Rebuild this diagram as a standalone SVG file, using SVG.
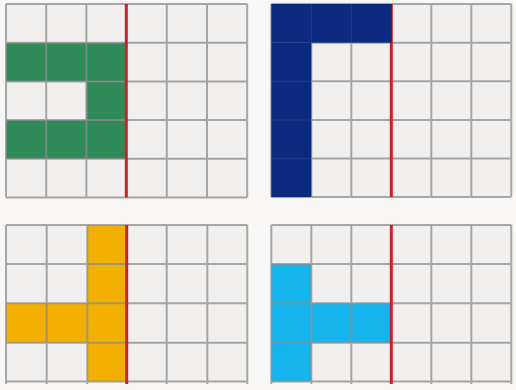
<svg xmlns="http://www.w3.org/2000/svg" width="516" height="390" viewBox="0 0 516 390">
<style>
.bg{fill:#f2f0ef}
.gl{stroke:#8c8c8c;stroke-width:2;stroke-opacity:0.75;fill:none}
.red{stroke:#cf1f2a;stroke-width:3}
.green{fill:#2f8b58}
.navy{fill:#0b2a80}
.yellow{fill:#f3b000}
.cyan{fill:#14b4ec}
</style>
<rect width="516" height="390" fill="#f8f7f6"/>

<g id="grid-top-left">
<rect class="bg" x="6" y="4" width="241.2" height="193.5"/>
<rect class="green" x="6" y="42.7" width="120.6" height="38.7"/>
<rect class="green" x="86.4" y="81.4" width="40.2" height="38.7"/>
<rect class="green" x="6" y="120.1" width="120.6" height="38.7"/>
<path class="gl" d="M6 4V197.5M46.2 4V197.5M86.4 4V197.5M166.8 4V197.5M207 4V197.5M247.2 4V197.5M6 4H247.2M6 42.7H247.2M6 81.4H247.2M6 120.1H247.2M6 158.8H247.2M6 197.5H247.2"/>
<line class="red" x1="126.3" y1="4" x2="126.3" y2="197.5"/>
</g>

<g id="grid-top-right">
<rect class="bg" x="271.3" y="4" width="240" height="193"/>
<path class="gl" d="M271.3 4V197M311.3 4V197M351.3 4V197M431.3 4V197M471.3 4V197M511.3 4V197M271.3 4H511.3M271.3 42.7H511.3M271.3 81.3H511.3M271.3 120H511.3M271.3 158.6H511.3M271.3 197H511.3"/>
<line class="red" x1="391.3" y1="4" x2="391.3" y2="197"/>
<rect class="navy" x="271.3" y="4" width="120.5" height="38.7"/>
<rect class="navy" x="271.3" y="42.7" width="40" height="154.3"/>
<path d="M311.3 4V42.7M351.3 4V42.7M271.3 81.3H311.3M271.3 120H311.3M271.3 158.6H311.3" stroke="#3a4f95" stroke-width="1" stroke-opacity="0.5"/>
</g>

<g id="grid-bottom-left">
<rect class="bg" x="6" y="225" width="241.2" height="157"/>
<rect class="yellow" x="87.3" y="225" width="39.4" height="156.5"/>
<rect class="yellow" x="6" y="303.3" width="81.3" height="39.4"/>
<path class="gl" d="M6 225V384M46.7 225V384M87.3 225V384M166.7 225V384M207.3 225V384M247.3 225V384M6 225H247.3M6 264H247.3M6 303.3H247.3M6 342.7H247.3M6 381.5H247.3"/>
<line class="red" x1="126.7" y1="225" x2="126.7" y2="384"/>
</g>

<g id="grid-bottom-right">
<rect class="bg" x="271.3" y="225" width="240" height="157"/>
<rect class="cyan" x="271.3" y="264" width="40" height="117.5"/>
<rect class="cyan" x="311.3" y="303.3" width="80" height="39.4"/>
<path class="gl" d="M271.3 225V384M311.3 225V384M351.3 225V384M431.3 225V384M471.3 225V384M511.3 225V384M271.3 225H511.3M271.3 264H511.3M271.3 303.3H511.3M271.3 342.7H511.3M271.3 381.5H511.3"/>
<line class="red" x1="391.3" y1="225" x2="391.3" y2="384"/>
</g>
</svg>
